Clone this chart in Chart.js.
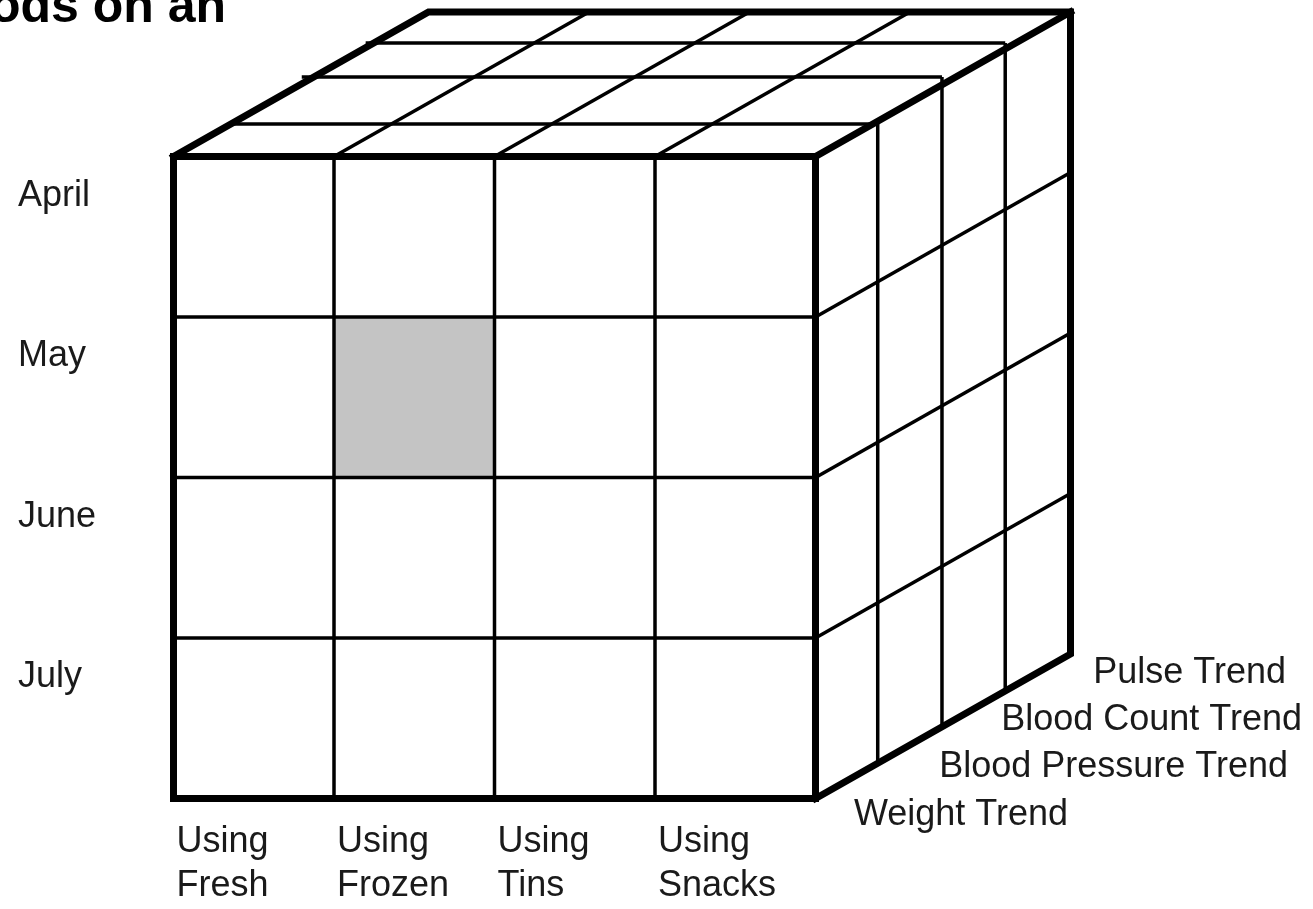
<!DOCTYPE html>
<html>
<head>
<meta charset="utf-8">
<script src="https://cdn.jsdelivr.net/npm/chart.js@4.4.0/dist/chart.umd.min.js"></script>
<style>
html,body{margin:0;padding:0;background:#fff;overflow:hidden}
canvas{display:block}
</style>
</head>
<body>
<canvas id="c" width="1313" height="909"></canvas>
<script>
// ---------- data ----------
const titleText = "ods on an";
const months = ["April", "May", "June", "July"];
const foods = [["Using", "Fresh"], ["Using", "Frozen"], ["Using", "Tins"], ["Using", "Snacks"]];
const trends = ["Weight Trend", "Blood Pressure Trend", "Blood Count Trend", "Pulse Trend"];
const highlightedFood = ["Using Frozen"];
const highlightedMonth = ["May"];

// ---------- layout (geometry / styles) ----------
const L = {
  W: 1313, H: 909,
  unit: 160.5,                      // px per grid cell
  originX: 173.5, originY: 156.5,   // front-top-left corner in px
  dx: 255 / 160.5, dy: -144.5 / 160.5, // full cube depth in grid units
  topDepth: [0.225, 0.55, 0.785],   // hand-drawn depth dividers on the top face
  topStub: [0, 12, 8],              // small overshoot past the left edge (px)
  sideDepth: [0.244, 0.496, 0.744], // hand-drawn depth dividers on the right face
  thick: 7, thin: 3.5,
  shade: '#c4c4c4', ink: '#000', text: '#1a1a1a',
  font: '"Liberation Sans", Arial, Helvetica, sans-serif'
};
const trendLabelPos = [[1068, 825], [1288, 777], [1302, 730], [1286, 683]];

const nC = foods.length, nR = months.length;
const datasets = [];
function seg(pts, width, order) {
  datasets.push({
    data: pts.map(p => ({x: p[0], y: p[1]})),
    showLine: true, borderColor: L.ink, borderWidth: width,
    pointRadius: 0, pointHoverRadius: 0, tension: 0, fill: false,
    borderCapStyle: width === L.thick ? 'square' : 'butt',
    borderJoinStyle: 'miter', order: order
  });
}

// highlighted cell
highlightedFood.forEach((f, i) => {
  const c = foods.findIndex(a => a.join(' ') === f);
  const r = months.indexOf(highlightedMonth[i]);
  datasets.push({
    data: [{x: c, y: r}, {x: c + 1, y: r}],
    showLine: true, borderWidth: 0, borderColor: 'rgba(0,0,0,0)',
    backgroundColor: L.shade, pointRadius: 0, pointHoverRadius: 0,
    fill: {target: {value: r + 1}}, order: 5
  });
});

// front face inner grid
for (let c = 1; c < nC; c++) seg([[c, 0], [c, nR]], L.thin, 3);
for (let r = 1; r < nR; r++) seg([[0, r], [nC, r]], L.thin, 3);
// top face: front-to-back dividers
for (let c = 1; c < nC; c++) seg([[c, 0], [c + L.dx, L.dy]], L.thin, 3);
// top face depth dividers + right face verticals
for (let k = 0; k < trends.length - 1; k++) {
  const yt = L.topDepth[k] * L.dy;
  const xs = nC + L.sideDepth[k] * L.dx;
  seg([[L.topDepth[k] * L.dx - L.topStub[k] / L.unit, yt], [xs, yt]], L.thin, 3);
  seg([[xs, yt], [xs, nR + L.sideDepth[k] * L.dy]], L.thin, 3);
}
// right face row dividers
for (let r = 1; r < nR; r++) seg([[nC, r], [nC + L.dx, r + L.dy]], L.thin, 3);

// thick outline
seg([[0, 0], [nC, 0], [nC, nR], [0, nR], [0, 0]], L.thick, 1);
seg([[0, 0], [L.dx, L.dy], [nC + L.dx, L.dy], [nC + L.dx, nR + L.dy], [nC, nR]], L.thick, 1);
seg([[nC, 0], [nC + L.dx, L.dy]], L.thick, 1);

const labelPlugin = {
  id: 'cubeLabels',
  afterDatasetsDraw(chart) {
    const ctx = chart.ctx, X = chart.scales.x, Y = chart.scales.y;
    ctx.save();
    ctx.textBaseline = 'alphabetic';
    // title (cut at the top-left, as in the reference)
    ctx.font = 'bold 50px ' + L.font;
    ctx.textAlign = 'right';
    ctx.fillStyle = '#000';
    ctx.fillText(titleText, 226, 22);
    ctx.fillStyle = L.text;
    ctx.font = '36px ' + L.font;
    ctx.textAlign = 'left';
    months.forEach((m, i) => ctx.fillText(m, 18, Y.getPixelForValue(i) + 49));
    const yb = Y.getPixelForValue(nR);
    foods.forEach((lines, i) => lines.forEach((t, j) =>
      ctx.fillText(t, X.getPixelForValue(i) + 3, yb + 53 + 44 * j)));
    ctx.textAlign = 'right';
    trends.forEach((t, k) => ctx.fillText(t, trendLabelPos[k][0], trendLabelPos[k][1]));
    ctx.restore();
  }
};

new Chart(document.getElementById('c'), {
  type: 'scatter',
  data: {datasets},
  options: {
    responsive: false, animation: false, devicePixelRatio: 1, events: [],
    layout: {padding: 0},
    plugins: {legend: {display: false}, tooltip: {enabled: false}, title: {display: false}},
    scales: {
      x: {type: 'linear', display: false, min: -L.originX / L.unit, max: (L.W - L.originX) / L.unit},
      y: {type: 'linear', display: false, reverse: true, min: -L.originY / L.unit, max: (L.H - L.originY) / L.unit}
    }
  },
  plugins: [labelPlugin]
});
</script>
</body>
</html>
